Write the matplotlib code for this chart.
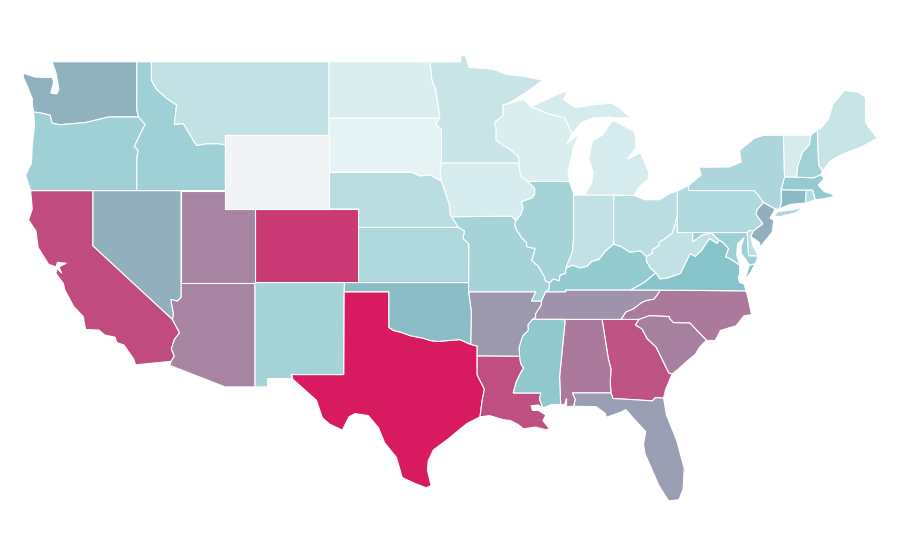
import matplotlib
matplotlib.use('Agg')
import matplotlib.pyplot as plt
from matplotlib.colors import LinearSegmentedColormap, Normalize

# state values
states = ['TX', 'CO', 'CA', 'LA', 'GA', 'AL', 'NC', 'SC', 'AZ', 'UT', 'TN', 'AR', 'FL', 'NV', 'WA', 'NJ',
          'CT', 'OK', 'VA', 'MS', 'KY', 'MA', 'MD', 'OR', 'ID', 'NH', 'MO', 'IL', 'NM', 'NY', 'PA', 'KS',
          'RI', 'DE', 'NE', 'OH', 'MT', 'IN', 'WV', 'MN', 'ME', 'IA', 'MI', 'VT', 'WI', 'ND', 'SD', 'WY']
values = [100, 91, 85.5, 84.5, 83, 72, 72, 70, 69, 69, 64.5, 63, 61, 56, 55.5, 56,
          53, 52, 50, 45.8, 44, 44, 40, 39, 39, 38, 36, 36, 36, 33, 31, 32,
          30, 26, 27, 27, 23, 23, 23, 20, 20, 13, 14, 14, 12, 12, 6, 0]

# shared borders, lon/lat
mn_wi = [(-92.01, 46.71), (-92.29, 46.66), (-92.29, 46.08), (-92.87, 45.7), (-92.75, 45.3), (-92.76, 44.75),
         (-92.3, 44.45), (-91.9, 44.3), (-91.25, 43.85), (-91.22, 43.5)]
wi_ia = [(-91.22, 43.5), (-91.15, 43.0), (-91.05, 42.75), (-90.64, 42.51)]
ia_il = [(-90.64, 42.51), (-90.42, 42.33), (-90.16, 42.1), (-90.16, 41.8), (-90.34, 41.6), (-91.05, 41.4),
         (-90.95, 41.05), (-91.1, 40.7), (-91.42, 40.38)]
il_mo = [(-91.42, 40.38), (-91.5, 40.2), (-91.42, 39.93), (-91.05, 39.45), (-90.72, 39.2), (-90.68, 38.95),
         (-90.12, 38.85), (-90.2, 38.6), (-90.35, 38.2), (-89.9, 37.88), (-89.5, 37.33), (-89.43, 37.1),
         (-89.15, 36.98)]
ky_mo = [(-89.15, 36.98), (-89.2, 36.63), (-89.42, 36.5)]
tn_mo = [(-89.42, 36.5), (-89.7, 36.0)]
ar_tn = [(-89.7, 36.0), (-89.7, 35.8), (-90.1, 35.3), (-90.09, 35.12), (-90.3, 35.0)]
ar_ms = [(-90.3, 35.0), (-90.6, 34.7), (-90.58, 34.4), (-90.95, 34.1), (-91.08, 33.8), (-91.2, 33.45),
         (-91.17, 33.0)]
la_ms = [(-91.17, 33.0), (-91.1, 32.6), (-90.9, 32.35), (-91.1, 32.1), (-91.4, 31.6), (-91.6, 31.0),
         (-89.73, 31.0), (-89.83, 30.67), (-89.6, 30.18)]
il_ky = [(-89.15, 36.98), (-88.9, 37.2), (-88.5, 37.1), (-88.45, 37.4), (-88.1, 37.5), (-88.03, 37.8)]
in_ky = [(-88.03, 37.8), (-87.6, 37.95), (-87.1, 37.8), (-86.6, 37.9), (-86.3, 38.15), (-85.8, 38.27),
         (-85.4, 38.7), (-84.82, 39.1)]
oh_ky = [(-84.82, 39.1), (-84.3, 38.95), (-83.7, 38.65), (-83.0, 38.73), (-82.6, 38.42)]
oh_wv = [(-82.6, 38.42), (-82.2, 38.6), (-82.2, 38.8), (-81.75, 39.0), (-81.75, 39.2), (-81.4, 39.35),
         (-80.85, 39.7), (-80.65, 40.2), (-80.52, 40.64)]
ky_wv = [(-82.6, 38.42), (-82.6, 38.17), (-82.3, 37.75), (-81.97, 37.54)]
ky_va = [(-81.97, 37.54), (-82.7, 37.05), (-83.1, 36.85), (-83.68, 36.6)]
ky_tn = [(-83.68, 36.6), (-88.06, 36.6), (-88.06, 36.5), (-89.42, 36.5)]
tn_va = [(-83.68, 36.6), (-81.68, 36.59)]
tn_nc = [(-81.68, 36.59), (-81.9, 36.3), (-82.1, 36.1), (-82.6, 36.03), (-82.9, 35.93), (-83.5, 35.57),
         (-84.0, 35.4), (-84.32, 35.0)]
va_nc = [(-81.68, 36.59), (-75.87, 36.55)]
va_wv = [(-81.97, 37.54), (-81.68, 37.2), (-81.2, 37.25), (-80.3, 37.5), (-80.0, 38.0), (-79.65, 38.58),
         (-79.3, 38.42), (-78.87, 38.77), (-78.35, 39.4), (-77.83, 39.13), (-77.72, 39.32)]
wv_md = [(-77.72, 39.32), (-78.2, 39.67), (-78.8, 39.6), (-79.48, 39.2), (-79.48, 39.72)]
va_md = [(-77.72, 39.32), (-77.45, 39.2), (-77.05, 38.85), (-77.25, 38.4), (-76.95, 38.3), (-76.3, 37.95)]
va_coast = [(-76.3, 37.95), (-76.3, 37.5), (-76.4, 37.25), (-76.3, 37.0), (-76.0, 36.92), (-75.87, 36.55)]
wa_or = [(-116.92, 46.0), (-118.98, 46.0), (-119.3, 45.93), (-120.5, 45.7), (-121.2, 45.65), (-122.2, 45.58),
         (-122.75, 45.65), (-122.9, 46.1), (-123.4, 46.2), (-124.0, 46.27)]
or_id = [(-116.92, 46.0), (-116.47, 45.6), (-116.85, 45.0), (-117.2, 44.4), (-116.95, 44.2), (-117.03, 43.8),
         (-117.03, 42.0)]
id_mt = [(-116.05, 49.0), (-116.05, 48.0), (-115.7, 47.5), (-115.0, 47.0), (-114.35, 46.65), (-114.5, 45.6),
         (-113.9, 45.65), (-113.45, 45.05), (-113.0, 44.45), (-112.3, 44.55), (-111.5, 44.55), (-111.05, 44.48)]
ca_az = [(-114.63, 35.0), (-114.15, 34.27), (-114.5, 33.9), (-114.7, 33.4), (-114.5, 33.0), (-114.72, 32.72)]
nv_az = [(-114.05, 36.2), (-114.3, 36.0), (-114.75, 36.1), (-114.57, 35.3), (-114.63, 35.0)]
red_river = [(-100.0, 34.56), (-99.7, 34.4), (-99.2, 34.3), (-98.5, 34.1), (-97.7, 33.98), (-97.2, 33.85),
             (-96.7, 33.8), (-96.0, 33.85), (-95.2, 33.9), (-94.48, 33.64)]
tx_la = [(-94.04, 33.02), (-94.04, 31.99), (-93.55, 31.2), (-93.7, 30.6), (-93.75, 30.3), (-93.85, 29.7)]
nd_mn = [(-97.23, 49.0), (-97.1, 48.0), (-96.85, 47.5), (-96.56, 45.94)]
sd_mn = [(-96.56, 45.94), (-96.85, 45.6), (-96.45, 45.3), (-96.45, 43.5)]
sd_ia_ne = [(-96.45, 43.5), (-96.55, 43.0), (-96.45, 42.5)]
ne_sd = [(-96.45, 42.5), (-97.2, 42.85), (-97.9, 42.8), (-98.5, 43.0), (-104.05, 43.0)]
ne_ia = [(-96.45, 42.5), (-96.1, 41.7), (-95.9, 41.2), (-95.85, 40.7), (-95.77, 40.58)]
ks_mo = [(-95.31, 40.0), (-94.9, 39.8), (-95.0, 39.4), (-94.61, 39.1), (-94.62, 37.0)]
ga_sc = [(-83.1, 35.0), (-83.35, 34.7), (-82.9, 34.48), (-82.55, 33.95), (-81.95, 33.5), (-81.4, 32.6),
         (-81.1, 32.1), (-80.87, 32.03)]
nc_sc = [(-83.1, 35.0), (-82.4, 35.2), (-81.05, 35.15), (-81.05, 35.05), (-80.78, 34.82), (-79.67, 34.8),
         (-78.55, 33.86)]
ga_al = [(-85.6, 35.0), (-85.18, 32.87), (-85.0, 32.3), (-85.05, 31.55), (-85.0, 31.0)]
ga_fl = [(-85.0, 31.0), (-84.86, 30.7), (-82.2, 30.57), (-82.0, 30.75), (-81.45, 30.72)]
al_ms = [(-88.2, 35.0), (-88.1, 34.9), (-88.47, 31.9), (-88.4, 30.37)]
al_fl = [(-85.0, 31.0), (-87.6, 31.0), (-87.4, 30.65), (-87.52, 30.28)]
ny_pa = [(-79.76, 42.27), (-79.76, 42.0), (-75.35, 42.0), (-75.05, 41.75), (-74.7, 41.36)]
nj_pa = [(-74.7, 41.36), (-75.13, 40.97), (-75.2, 40.7), (-74.75, 40.2), (-75.4, 39.8)]
vt_nh = [(-71.5, 45.01), (-71.6, 44.5), (-72.05, 44.1), (-72.4, 43.3), (-72.46, 42.73)]
nh_me = [(-71.05, 45.3), (-70.97, 43.4), (-70.7, 43.07)]

WA = [(-122.76, 49.0), (-117.03, 49.0), (-117.04, 46.42)] + wa_or + [
    (-124.1, 46.7), (-124.1, 47.0), (-124.4, 47.6), (-124.7, 48.15), (-124.72, 48.38), (-123.9, 48.17),
    (-123.1, 48.15), (-122.75, 48.15), (-122.65, 47.9), (-122.85, 47.3), (-122.45, 47.25), (-122.3, 47.5),
    (-122.4, 48.0), (-122.5, 48.4)]
OR = wa_or[::-1] + or_id + [(-124.21, 42.0), (-124.55, 42.84), (-124.15, 43.5), (-124.1, 44.5), (-123.95, 45.5)]
ID = [(-117.03, 49.0)] + id_mt + [(-111.05, 42.0), (-117.03, 42.0)] + or_id[::-1] + [(-117.04, 46.42)]
MT = id_mt + [(-111.05, 45.0), (-104.05, 45.0), (-104.05, 49.0)]
WY = [(-111.05, 45.0), (-104.05, 45.0), (-104.05, 41.0), (-111.05, 41.0)]
ND = nd_mn + [(-104.05, 45.94), (-104.05, 49.0)]
SD = sd_mn + sd_ia_ne + ne_sd + [(-104.05, 45.94)]
NE = ne_sd[::-1] + ne_ia + [(-95.31, 40.0), (-102.05, 40.0), (-102.05, 41.0), (-104.05, 41.0)]
KS = ks_mo + [(-102.05, 37.0), (-102.05, 40.0)]
OK = [(-103.0, 37.0), (-94.62, 37.0), (-94.62, 36.5), (-94.43, 35.4)] + red_river[::-1] + [(-100.0, 36.5), (-103.0, 36.5)]
TX = [(-103.04, 36.5), (-100.0, 36.5)] + red_river + [(-94.04, 33.55)] + tx_la + [
    (-94.7, 29.35), (-95.1, 29.1), (-96.0, 28.5), (-97.0, 27.9), (-97.35, 27.3), (-97.4, 26.8), (-97.15, 25.96),
    (-97.5, 25.85), (-98.3, 26.1), (-99.1, 26.4), (-99.5, 27.5), (-100.3, 28.3), (-100.7, 29.1), (-101.4, 29.77),
    (-102.3, 29.88), (-102.7, 29.7), (-103.15, 28.98), (-104.0, 29.3), (-104.5, 29.65), (-104.9, 30.6),
    (-106.5, 31.75), (-106.6, 32.0), (-103.06, 32.0)]
NM = [(-109.05, 37.0), (-103.0, 37.0), (-103.04, 36.5), (-103.06, 32.0), (-106.6, 32.0), (-106.5, 31.78),
      (-108.2, 31.78), (-108.2, 31.33), (-109.05, 31.33)]
AZ = [(-114.05, 37.0), (-109.05, 37.0), (-109.05, 31.33), (-111.07, 31.33), (-114.81, 32.5)] + ca_az[::-1] + nv_az[::-1]
UT = [(-114.05, 42.0), (-111.05, 42.0), (-111.05, 41.0), (-109.05, 41.0), (-109.05, 37.0), (-114.05, 37.0)]
CO = [(-109.05, 41.0), (-102.05, 41.0), (-102.05, 37.0), (-109.05, 37.0)]
NV = [(-120.0, 42.0), (-114.05, 42.0)] + nv_az + [(-120.0, 39.0)]
CA = [(-124.21, 42.0), (-120.0, 42.0), (-120.0, 39.0)] + ca_az + [
    (-117.12, 32.53), (-117.25, 32.85), (-117.9, 33.6), (-118.4, 33.75), (-118.5, 34.03), (-119.2, 34.15),
    (-119.6, 34.42), (-120.5, 34.45), (-120.65, 35.15), (-121.3, 35.7), (-121.9, 36.6), (-122.0, 36.95),
    (-122.5, 37.5), (-122.45, 37.78), (-122.1, 37.5), (-122.3, 37.85), (-121.8, 38.05), (-122.4, 38.1),
    (-122.5, 37.85), (-123.0, 38.0), (-123.7, 38.9), (-123.85, 39.8), (-124.35, 40.4), (-124.1, 41.0)]
MN = [(-97.23, 49.0), (-95.15, 49.0), (-95.15, 49.38), (-94.8, 49.3), (-94.6, 48.7), (-93.0, 48.6), (-92.0, 48.3),
      (-90.8, 48.2), (-89.6, 48.0), (-90.8, 47.3)] + mn_wi + [(-96.45, 43.5)] + sd_mn[::-1] + nd_mn[::-1]
IA = [(-96.45, 43.5)] + wi_ia + ia_il + [(-91.73, 40.61)] + ne_ia[::-1] + sd_ia_ne[::-1]
MO = [(-95.77, 40.58), (-91.73, 40.61)] + il_mo + ky_mo + tn_mo + [(-90.37, 36.0), (-90.07, 36.5), (-94.62, 36.5)] + ks_mo[::-1]
AR = [(-94.62, 36.5), (-90.07, 36.5), (-90.37, 36.0)] + ar_tn + ar_ms + [(-94.04, 33.02), (-94.04, 33.55), (-94.48, 33.64), (-94.43, 35.4)]
LA = [(-94.04, 33.02)] + la_ms + [
    (-89.9, 30.35), (-90.4, 30.3), (-90.3, 30.05), (-89.9, 30.05), (-89.4, 29.8), (-89.6, 29.5), (-89.15, 29.05),
    (-89.4, 29.0), (-90.1, 29.15), (-90.9, 29.05), (-91.3, 29.3), (-91.8, 29.5), (-92.3, 29.55), (-93.2, 29.77)] + tx_la[::-1]
MS = ar_ms + la_ms + [(-89.0, 30.38)] + al_ms[::-1]
AL = [(-88.2, 35.0)] + ga_al + al_fl + [(-88.0, 30.25), (-88.0, 30.7), (-88.15, 30.35)] + al_ms[::-1]
GA = ga_al + ga_fl + [(-81.3, 31.2)] + ga_sc[::-1]
FL = al_fl[::-1] + ga_fl[1:] + [
    (-81.25, 29.8), (-80.55, 28.4), (-80.05, 26.9), (-80.12, 25.8), (-80.4, 25.2), (-81.1, 25.13), (-81.75, 25.95),
    (-82.1, 26.6), (-82.7, 27.7), (-82.8, 28.2), (-82.65, 28.9), (-83.4, 29.55), (-84.0, 30.1), (-84.35, 29.95),
    (-85.3, 29.68), (-85.4, 29.9), (-86.0, 30.25)]
SC = nc_sc + [(-79.0, 33.5), (-79.3, 33.1), (-79.9, 32.7), (-80.45, 32.3)] + ga_sc[::-1]
NC = [(-84.32, 35.0)] + nc_sc + [(-77.95, 33.85), (-77.6, 34.4), (-76.55, 34.65), (-76.0, 35.2), (-75.5, 35.25),
                                 (-75.75, 36.2)] + va_nc[::-1] + tn_nc
TN = ky_tn[::-1] + tn_va + tn_nc + [(-85.6, 35.0), (-88.2, 35.0), (-90.3, 35.0)] + ar_tn[::-1] + tn_mo[::-1]
KY = il_ky + in_ky + oh_ky + ky_wv + ky_va + ky_tn + ky_mo[::-1]
VA = ky_va[::-1] + va_wv + va_md + va_coast + va_nc[::-1] + tn_va[::-1]
VA_SHORE = [(-75.95, 37.15), (-75.65, 37.95), (-75.25, 38.03), (-75.6, 37.5)]
WV = oh_wv + [(-80.52, 39.72)] + wv_md[::-1] + va_wv[::-1] + ky_wv[::-1]
OH = [(-84.82, 41.76), (-83.45, 41.73), (-82.7, 41.5), (-81.7, 41.5), (-81.0, 41.85), (-80.52, 41.98)] + oh_wv[::-1] + oh_ky[::-1]
IN = [(-87.53, 41.72), (-87.2, 41.75), (-86.82, 41.76), (-84.82, 41.76)] + in_ky[::-1] + [(-87.6, 38.7), (-87.53, 39.35)]
IL = [(-90.64, 42.51), (-87.8, 42.49), (-87.55, 41.9), (-87.53, 41.72), (-87.53, 39.35), (-87.6, 38.7)] + il_ky[::-1] + il_mo[::-1] + ia_il[::-1]
WI = [(-92.01, 46.71), (-90.9, 46.95), (-90.4, 46.55), (-89.1, 46.14), (-88.1, 45.95), (-87.8, 45.35), (-87.6, 45.1),
      (-88.0, 44.55), (-87.4, 44.9), (-87.05, 45.25), (-87.55, 44.3), (-87.9, 43.0), (-87.8, 42.49)] + wi_ia[::-1] + mn_wi[::-1]
MI = [(-86.82, 41.76), (-86.3, 42.4), (-86.2, 43.0), (-86.5, 43.7), (-86.25, 44.7), (-85.6, 45.0), (-85.0, 45.7),
      (-84.75, 45.78), (-83.4, 45.2), (-83.3, 44.35), (-83.9, 43.7), (-83.0, 44.05), (-82.45, 43.0), (-82.5, 42.6),
      (-83.1, 42.2), (-83.45, 41.73), (-84.82, 41.76)]
MI_UPPER = [(-90.4, 46.55), (-89.1, 46.14), (-88.1, 45.95), (-87.8, 45.35), (-87.6, 45.1), (-87.0, 45.7), (-86.2, 45.95),
            (-85.0, 46.0), (-84.7, 45.95), (-83.6, 45.95), (-84.1, 46.25), (-84.4, 46.5), (-85.0, 46.75), (-86.1, 46.67),
            (-87.4, 46.5), (-88.2, 46.95), (-87.9, 47.45), (-88.7, 47.2), (-89.6, 46.85)]
NY = ny_pa + [(-73.9, 41.0), (-73.65, 41.0), (-73.5, 41.3), (-73.5, 42.05), (-73.27, 42.75), (-73.35, 45.01), (-74.7, 45.0),
              (-75.3, 44.85), (-76.3, 44.2), (-76.2, 43.55), (-77.0, 43.28), (-79.05, 43.27), (-78.9, 42.85)]
NY_LI = [(-74.0, 40.6), (-73.75, 40.85), (-72.6, 40.97), (-72.0, 41.1), (-72.5, 40.8), (-73.5, 40.6)]
PA = [(-80.52, 41.98)] + ny_pa + nj_pa + [(-75.6, 39.84), (-75.79, 39.72), (-80.52, 39.72)]
NJ = [(-74.7, 41.36), (-73.9, 41.0), (-74.25, 40.5), (-74.0, 40.4), (-74.1, 39.75), (-74.9, 38.95), (-75.0, 39.2),
      (-75.55, 39.5)] + nj_pa[::-1]
DE = [(-75.79, 39.72), (-75.6, 39.84), (-75.4, 39.8), (-75.55, 39.5), (-75.4, 39.0), (-75.05, 38.45), (-75.7, 38.46)]
MD = [(-79.48, 39.72), (-75.79, 39.72), (-75.7, 38.46), (-75.05, 38.45), (-75.25, 38.03), (-75.65, 37.95), (-75.9, 38.25),
      (-76.2, 38.6), (-76.2, 39.0), (-76.0, 39.45), (-76.45, 39.1), (-76.5, 38.5), (-76.35, 38.1)] + va_md[::-1] + wv_md
CT = [(-73.5, 42.05), (-71.8, 42.02), (-71.85, 41.32), (-72.9, 41.25), (-73.65, 41.0), (-73.5, 41.3)]
RI = [(-71.8, 42.02), (-71.38, 42.02), (-71.2, 41.5), (-71.85, 41.32)]
MA = [(-73.5, 42.05), (-73.27, 42.75), (-72.46, 42.73), (-71.3, 42.7), (-70.8, 42.87), (-70.6, 42.65), (-71.0, 42.3),
      (-70.6, 41.95), (-70.0, 41.8), (-70.2, 42.07), (-69.95, 41.68), (-70.65, 41.55), (-71.2, 41.5), (-71.38, 42.02)]
VT = [(-73.35, 45.01)] + vt_nh + [(-73.27, 42.75)]
NH = vt_nh[::-1] + nh_me + [(-70.8, 42.87), (-71.3, 42.7)]
ME = nh_me + [(-70.2, 43.6), (-69.7, 43.85), (-69.0, 44.1), (-68.0, 44.4), (-67.0, 44.85), (-67.45, 45.3), (-67.8, 45.7),
              (-67.8, 47.07), (-68.3, 47.35), (-69.2, 47.45), (-70.0, 46.7), (-70.3, 45.9), (-70.8, 45.4)]

outlines = {'WA': [WA], 'OR': [OR], 'ID': [ID], 'MT': [MT], 'WY': [WY], 'ND': [ND], 'SD': [SD], 'NE': [NE], 'KS': [KS],
            'OK': [OK], 'TX': [TX], 'NM': [NM], 'AZ': [AZ], 'UT': [UT], 'CO': [CO], 'NV': [NV], 'CA': [CA], 'MN': [MN],
            'IA': [IA], 'MO': [MO], 'AR': [AR], 'LA': [LA], 'MS': [MS], 'AL': [AL], 'GA': [GA], 'FL': [FL], 'SC': [SC],
            'NC': [NC], 'TN': [TN], 'KY': [KY], 'VA': [VA, VA_SHORE], 'WV': [WV], 'OH': [OH], 'IN': [IN], 'IL': [IL],
            'WI': [WI], 'MI': [MI, MI_UPPER], 'NY': [NY, NY_LI], 'PA': [PA], 'NJ': [NJ], 'DE': [DE], 'MD': [MD],
            'CT': [CT], 'RI': [RI], 'MA': [MA], 'VT': [VT], 'NH': [NH], 'ME': [ME]}

cmap = LinearSegmentedColormap.from_list('teal_crimson', [(0, '#f2f3f5'), (0.06, '#e6f3f4'), (0.12, '#d9edef'),
                                                          (0.5, '#87c4ca'), (1, '#d81b60')])
norm = Normalize(0, 100)

fig = plt.figure(figsize=(9, 5.6), dpi=100)
ax = fig.add_axes([0, 0, 1, 1])

for state, value in zip(states, values):
    for ring in outlines[state]:
        lons, lats = zip(*ring)
        ax.fill(lons, lats, facecolor=cmap(norm(value)), edgecolor='white', linewidth=0.8)

# plain lon/lat frame, about 14.8 px per degree across and 18.4 px per degree up
ax.set_xlim(-126.28, -65.47)
ax.set_ylim(21.92, 52.36)
ax.axis('off')

fig.savefig('out.png', dpi=100)
